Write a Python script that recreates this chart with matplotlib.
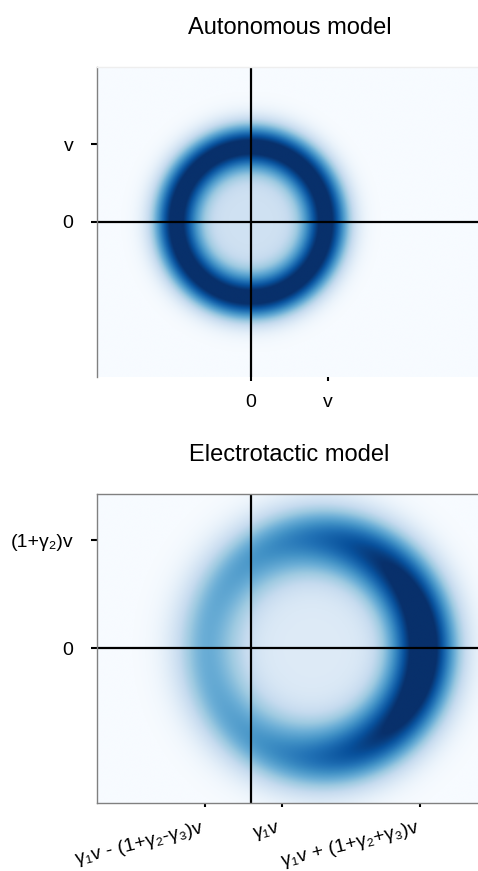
import numpy as np
import matplotlib
matplotlib.use('Agg')
import matplotlib.pyplot as plt

plt.rcParams['font.family'] = ['Liberation Sans', 'DejaVu Sans']

# panel titles and common extent (units of v)
titles = ['Autonomous model', 'Electrotactic model']
extent = [-2, 3, -2, 2]

# ring shape: centre x, centre y, radius, band width, inner fill level
ring_auto = [0.0, 0.0, 0.98, 0.21, 0.19]
ring_elec = [0.84, 0.0, 1.41, 0.31, 0.13]
# band strength on the right, top and left of the ring
weights_auto = [1.0, 1.0, 1.0]
weights_elec = [1.15, 0.76, 0.5]
# colour scale maximum per panel
vmax_list = [0.95, 1.0]

# ticks
xticks_auto = [0, 1]
xlabels_auto = ['0', 'v']
yticks_auto = [0, 1]
ylabels_auto = ['0', 'v']
xticks_elec = [-0.6, 0.4, 2.2]
xlabels_elec = ['γ₁v - (1+γ₂-γ₃)v', 'γ₁v', 'γ₁v + (1+γ₂+γ₃)v']
yticks_elec = [0, 1.4]
ylabels_elec = ['0', '(1+γ₂)v']


def ring_density(params, weights, X, Y):
    cx, cy, R, s, inner = params
    dx, dy = X - cx, Y - cy
    r = np.hypot(dx, dy)
    th = np.arctan2(dy, dx)
    wr, wt, wl = weights
    b = (wr - wl) / 2
    a = ((wr + wl) / 2 + wt) / 2
    c = ((wr + wl) / 2 - wt) / 2
    w = a + b * np.cos(th) + c * np.cos(2 * th)
    band = w * np.exp(-(r - R) ** 2 / (2 * s ** 2))
    fill = inner / (1 + np.exp((r - 0.8 * R) / 0.1))
    return band + fill


xs = np.linspace(extent[0], extent[1], 600)
ys = np.linspace(extent[2], extent[3], 480)
X, Y = np.meshgrid(xs, ys)

fig = plt.figure(figsize=(4.78, 8.71), dpi=100)
ax1 = fig.add_axes([0.2029, 0.5672, 0.8054, 0.3559])
ax2 = fig.add_axes([0.2029, 0.0781, 0.8054, 0.3548])

panels = [
    (ax1, ring_auto, weights_auto, xticks_auto, xlabels_auto, yticks_auto, ylabels_auto),
    (ax2, ring_elec, weights_elec, xticks_elec, xlabels_elec, yticks_elec, ylabels_elec),
]

for i, (ax, params, weights, xt, xl, yt, yl) in enumerate(panels):
    Z = ring_density(params, weights, X, Y)
    ax.imshow(Z, origin='lower', extent=extent, cmap='Blues', vmin=0,
              vmax=vmax_list[i], aspect='auto', interpolation='bilinear')
    ax.axhline(0, color='black', lw=1.6)
    ax.axvline(0, color='black', lw=1.6)
    ax.set_xlim(extent[0], extent[1])
    ax.set_ylim(extent[2], extent[3])
    ax.set_title(titles[i], fontsize=17, pad=24)
    ax.set_yticks(yt)
    ax.set_yticklabels(yl, fontsize=14)
    ax.set_xticks(xt)
    ax.tick_params(axis='y', length=4, width=1.5, pad=13)
    ax.tick_params(axis='x', length=3, width=1.5, pad=9)
    for side in ['left', 'top', 'bottom', 'right']:
        ax.spines[side].set_color('#808080')
        ax.spines[side].set_linewidth(1.0)
    ax.spines['right'].set_visible(False)

ax1.set_xticklabels(xlabels_auto, fontsize=14)
ax1.spines['top'].set_color('#eeeeee')
ax1.spines['bottom'].set_visible(False)
ax2.set_xticklabels(xlabels_elec, fontsize=14, rotation=14, ha='right')

fig.savefig('out.png', dpi=100)
